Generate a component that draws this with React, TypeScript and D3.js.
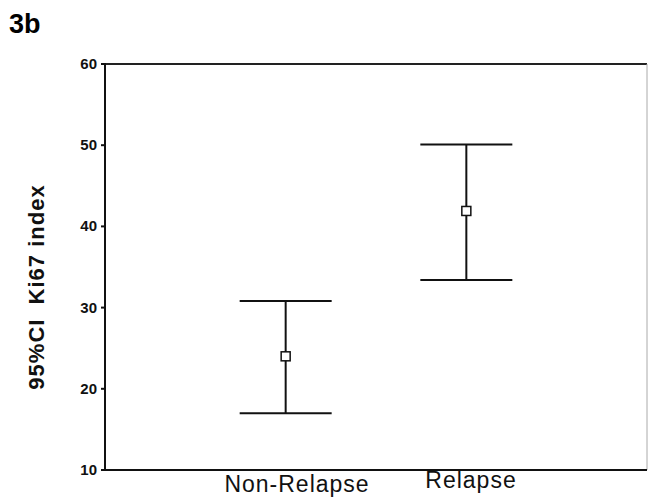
import React from 'react';
import * as d3 from 'd3';

const groups = ['Non-Relapse', 'Relapse'];
const means = [24.0, 41.9];
const lower = [17.0, 33.4];
const upper = [30.8, 50.1];
const yTicks = [10, 20, 30, 40, 50, 60];

const W = 648;
const H = 497;
const left = 105;
const right = 647;
const top = 64;
const bottom = 470;

export default function App() {
  const y = d3.scaleLinear().domain([10, 60]).range([bottom, top]);
  const x = d3.scalePoint<string>().domain(groups).range([left, right]).padding(1);
  const capHalf = 46;
  const font = '"Liberation Sans", Arial, sans-serif';

  return (
    <svg width={W} height={H} style={{ position: 'absolute', left: 0, top: 0, background: '#fff' }}>
      <text x={9} y={33} fontFamily={font} fontWeight="bold" fontSize={27}>3b</text>

      {/* frame */}
      <line x1={left} x2={right} y1={top} y2={top} stroke="#222" strokeWidth={2} />
      <line x1={right} x2={right} y1={top} y2={bottom} stroke="#aaa" strokeWidth={1} />
      <line x1={left} x2={left} y1={top - 1} y2={bottom + 1} stroke="#111" strokeWidth={2} />
      <line x1={left} x2={right} y1={bottom} y2={bottom} stroke="#111" strokeWidth={2} />

      {yTicks.map((t) => (
        <g key={t}>
          <line x1={left - 4} x2={left} y1={y(t)} y2={y(t)} stroke="#111" strokeWidth={2} />
          <text x={left - 8} y={y(t) + 5} textAnchor="end" fontFamily={font} fontWeight="bold" fontSize={15} fill="#111">{t}</text>
        </g>
      ))}

      <text transform={`translate(44, ${287}) rotate(-90)`} textAnchor="middle" fontFamily={font} fontWeight="bold" fontSize={22} letterSpacing={1} fill="#111" style={{ whiteSpace: 'pre' }}>
        {'95%CI  Ki67 index'}
      </text>

      {groups.map((g, i) => {
        const cx = x(g) as number;
        return (
          <g key={g}>
            <line x1={cx} x2={cx} y1={y(upper[i])} y2={y(lower[i])} stroke="#111" strokeWidth={2} />
            <line x1={cx - capHalf} x2={cx + capHalf} y1={y(upper[i])} y2={y(upper[i])} stroke="#111" strokeWidth={2} />
            <line x1={cx - capHalf} x2={cx + capHalf} y1={y(lower[i])} y2={y(lower[i])} stroke="#111" strokeWidth={2} />
            <rect x={cx - 4.5} y={y(means[i]) - 4.5} width={9} height={9} fill="#fff" stroke="#111" strokeWidth={1.5} />
          </g>
        );
      })}

      <text x={297} y={492} textAnchor="middle" fontFamily={font} fontSize={23} letterSpacing={1} fill="#111">{groups[0]}</text>
      <text x={471} y={488} textAnchor="middle" fontFamily={font} fontSize={23} letterSpacing={1} fill="#111">{groups[1]}</text>
    </svg>
  );
}
